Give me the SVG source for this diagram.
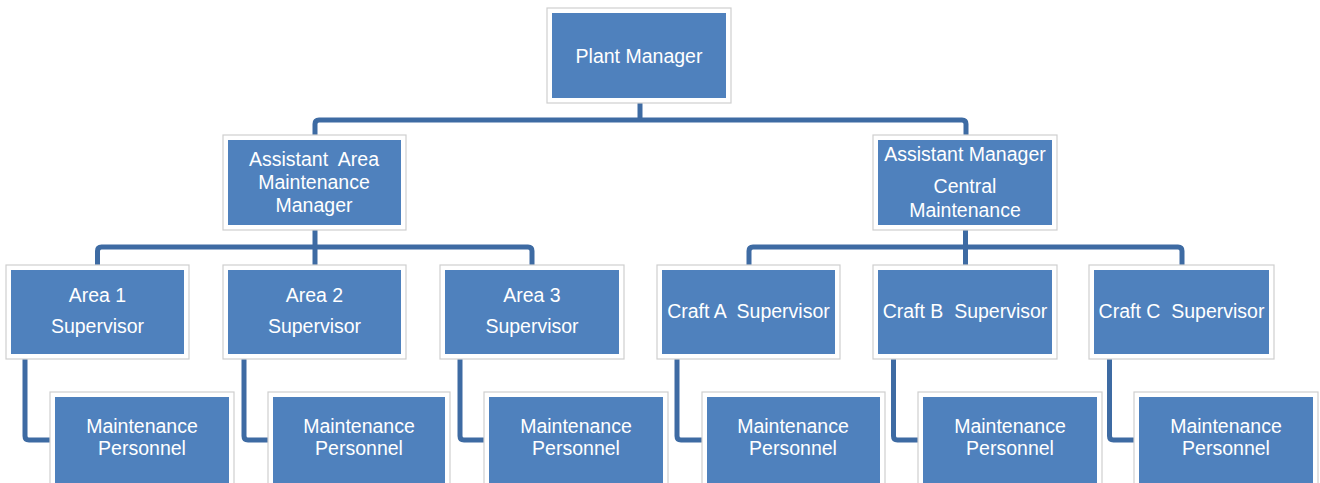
<svg xmlns="http://www.w3.org/2000/svg" width="1320" height="483" viewBox="0 0 1320 483">
  <defs>
    <style>
      .frame { fill: #ffffff; stroke: #cfcfcf; stroke-width: 1.2; }
      .box { fill: #4f81bd; }
      .lbl { font-family: "Liberation Sans", Arial, sans-serif; font-size: 19.5px; fill: #ffffff; text-anchor: middle; white-space: pre; }
      .wire { fill: none; stroke: #3e6ba3; stroke-width: 5; stroke-linejoin: round; stroke-linecap: butt; }
      .wire-shade { fill: none; stroke: #d6d6d6; stroke-width: 1; }
    </style>
  </defs>
  <rect width="1320" height="483" fill="#ffffff"/>

  <!-- connectors -->
  <g id="connectors">
    <!-- plant manager to assistants -->
    <path class="wire" d="M640 103 V120"/>
    <path class="wire" d="M315 135 V124 Q315 120 319 120 H962 Q966 120 966 124 V135"/>
    <!-- assistant area manager to area supervisors -->
    <path class="wire" d="M315 230 V265"/>
    <path class="wire" d="M97.5 265 V251 Q97.5 247 101.5 247 H528 Q532 247 532 251 V265"/>
    <!-- assistant central to craft supervisors -->
    <path class="wire" d="M965.5 230 V265"/>
    <path class="wire" d="M749 265 V251 Q749 247 753 247 H1178 Q1182 247 1182 251 V265"/>
    <!-- supervisors to personnel -->
    <path class="wire" d="M25 359 V436 Q25 440 29 440 H50"/>
    <path class="wire" d="M244 359 V436 Q244 440 248 440 H268"/>
    <path class="wire" d="M460 359 V436 Q460 440 464 440 H484"/>
    <path class="wire" d="M677 359 V436 Q677 440 681 440 H702"/>
    <path class="wire" d="M893.5 359 V436 Q893.5 440 897.5 440 H918"/>
    <path class="wire" d="M1109.5 359 V436 Q1109.5 440 1113.5 440 H1134"/>
  </g>

  <!-- top level -->
  <g id="plant-manager">
    <rect class="frame" x="547" y="8" width="184" height="95"/>
    <rect class="box" x="552" y="13" width="174" height="85"/>
    <text class="lbl" x="639" y="63">Plant Manager</text>
  </g>

  <!-- second level -->
  <g id="assistant-area-manager">
    <rect class="frame" x="223" y="135" width="183" height="95"/>
    <rect class="box" x="228" y="140" width="173" height="85"/>
    <text class="lbl" x="314" y="166">Assistant  Area</text>
    <text class="lbl" x="314" y="189">Maintenance</text>
    <text class="lbl" x="314" y="212">Manager</text>
  </g>
  <g id="assistant-manager-central">
    <rect class="frame" x="873" y="135" width="184" height="95"/>
    <rect class="box" x="878" y="140" width="174" height="85"/>
    <text class="lbl" x="965" y="161">Assistant Manager</text>
    <text class="lbl" x="965" y="193">Central</text>
    <text class="lbl" x="965" y="217">Maintenance</text>
  </g>

  <!-- supervisors -->
  <g id="area-1-supervisor">
    <rect class="frame" x="6" y="265" width="183" height="94"/>
    <rect class="box" x="11" y="270" width="173" height="84"/>
    <text class="lbl" x="97.5" y="302">Area 1</text>
    <text class="lbl" x="97.5" y="333">Supervisor</text>
  </g>
  <g id="area-2-supervisor">
    <rect class="frame" x="223" y="265" width="183" height="94"/>
    <rect class="box" x="228" y="270" width="173" height="84"/>
    <text class="lbl" x="314.5" y="302">Area 2</text>
    <text class="lbl" x="314.5" y="333">Supervisor</text>
  </g>
  <g id="area-3-supervisor">
    <rect class="frame" x="440" y="265" width="184" height="94"/>
    <rect class="box" x="445" y="270" width="174" height="84"/>
    <text class="lbl" x="532" y="302">Area 3</text>
    <text class="lbl" x="532" y="333">Supervisor</text>
  </g>
  <g id="craft-a-supervisor">
    <rect class="frame" x="657" y="265" width="183" height="94"/>
    <rect class="box" x="662" y="270" width="173" height="84"/>
    <text class="lbl" x="748.5" y="318">Craft A  Supervisor</text>
  </g>
  <g id="craft-b-supervisor">
    <rect class="frame" x="873" y="265" width="184" height="94"/>
    <rect class="box" x="878" y="270" width="174" height="84"/>
    <text class="lbl" x="965" y="318">Craft B  Supervisor</text>
  </g>
  <g id="craft-c-supervisor">
    <rect class="frame" x="1089" y="265" width="185" height="94"/>
    <rect class="box" x="1094" y="270" width="175" height="84"/>
    <text class="lbl" x="1181.5" y="318">Craft C  Supervisor</text>
  </g>

  <!-- maintenance personnel -->
  <g id="personnel-area-1">
    <rect class="frame" x="50" y="392" width="184" height="100"/>
    <rect class="box" x="55" y="397" width="174" height="95"/>
    <text class="lbl" x="142" y="433">Maintenance</text>
    <text class="lbl" x="142" y="455">Personnel</text>
  </g>
  <g id="personnel-area-2">
    <rect class="frame" x="268" y="392" width="182" height="100"/>
    <rect class="box" x="273" y="397" width="172" height="95"/>
    <text class="lbl" x="359" y="433">Maintenance</text>
    <text class="lbl" x="359" y="455">Personnel</text>
  </g>
  <g id="personnel-area-3">
    <rect class="frame" x="484" y="392" width="184" height="100"/>
    <rect class="box" x="489" y="397" width="174" height="95"/>
    <text class="lbl" x="576" y="433">Maintenance</text>
    <text class="lbl" x="576" y="455">Personnel</text>
  </g>
  <g id="personnel-craft-a">
    <rect class="frame" x="702" y="392" width="183" height="100"/>
    <rect class="box" x="707" y="397" width="173" height="95"/>
    <text class="lbl" x="793" y="433">Maintenance</text>
    <text class="lbl" x="793" y="455">Personnel</text>
  </g>
  <g id="personnel-craft-b">
    <rect class="frame" x="918" y="392" width="184" height="100"/>
    <rect class="box" x="923" y="397" width="174" height="95"/>
    <text class="lbl" x="1010" y="433">Maintenance</text>
    <text class="lbl" x="1010" y="455">Personnel</text>
  </g>
  <g id="personnel-craft-c">
    <rect class="frame" x="1134" y="392" width="184" height="100"/>
    <rect class="box" x="1139" y="397" width="174" height="95"/>
    <text class="lbl" x="1226" y="433">Maintenance</text>
    <text class="lbl" x="1226" y="455">Personnel</text>
  </g>
</svg>
